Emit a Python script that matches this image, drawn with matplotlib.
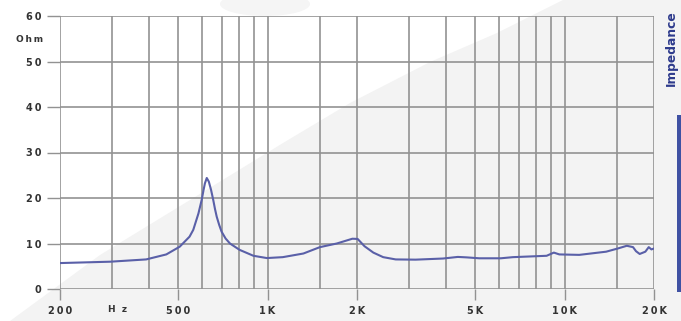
import matplotlib
matplotlib.use('Agg')
import matplotlib.pyplot as plt
import numpy as np
from matplotlib.patches import Polygon, Rectangle, Ellipse
from matplotlib.ticker import FixedLocator, NullLocator, NullFormatter

# ---------------- data ----------------
freq = [200, 295, 390, 456, 506, 546, 562, 585, 600, 608, 615, 624, 634, 645,
        656, 665, 674, 687, 700, 722, 747, 805, 896, 994, 1125, 1320, 1500,
        1710, 1930, 2010, 2120, 2270, 2450, 2700, 3150, 3900, 4370, 4680,
        5160, 6100, 6700, 8700, 9200, 9600, 11200, 13800, 15100, 16200,
        17000, 17400, 17900, 18700, 19200, 19600, 20000]
imp = [5.7, 6.0, 6.5, 7.6, 9.3, 11.5, 13.0, 16.6, 19.6, 21.6, 23.2, 24.4, 23.6, 21.8,
       19.6, 17.6, 15.9, 14.1, 12.6, 11.1, 10.0, 8.6, 7.3, 6.8, 7.0, 7.8, 9.2,
       10.0, 11.05, 11.0, 9.4, 8.0, 7.0, 6.5, 6.45, 6.7, 7.05, 6.95,
       6.75, 6.75, 7.0, 7.3, 8.0, 7.6, 7.5, 8.2, 8.9, 9.5,
       9.2, 8.3, 7.7, 8.2, 9.2, 8.7, 8.9]

grid_freqs = [200, 300, 400, 500, 600, 700, 800, 900, 1000, 1500, 2000, 3000,
              4000, 5000, 6000, 7000, 8000, 9000, 10000, 15000, 20000]
xtick_freqs = [200, 500, 1000, 2000, 5000, 10000, 20000]
xtick_labels = ['200', '500', '1K', '2K', '5K', '10K', '20K']
ytick_vals = [0, 10, 20, 30, 40, 50, 60]
ytick_labels = ['0', '10', '20', '30', '40', '50', '60']

TS = '\u2009'  # thin space for letter spacing


def spaced(s):
    return TS.join(list(s))


W, H = 681, 321
fig = plt.figure(figsize=(W / 100, H / 100), dpi=100)
fig.patch.set_facecolor('white')

# background layer (decoration, pixel coords with y downward)
bg = fig.add_axes([0, 0, 1, 1], zorder=-5)
bg.set_xlim(0, W)
bg.set_ylim(H, 0)
bg.axis('off')
pts = [(10, 321), (100, 255), (190, 200), (283, 143), (350, 103), (430, 62),
       (497, 33), (563, 0), (681, 0), (681, 321)]
bg.add_patch(Polygon(pts, closed=True, facecolor='#f3f3f3', edgecolor='none'))
bg.add_patch(Ellipse((265, 4), 90, 24, facecolor='#f5f5f5', edgecolor='none'))
bg.add_patch(Rectangle((677, 115), 5, 177, facecolor='#3f51a3', edgecolor='none'))

left, right, top, bottom = 60, 654, 16, 289
ax = fig.add_axes([left / W, 1 - bottom / H, (right - left) / W, (bottom - top) / H], zorder=1)
ax.set_facecolor('none')
ax.set_xscale('log')
ax.set_xlim(200, 20000)
ax.set_ylim(0, 60)
for s in ax.spines.values():
    s.set_visible(False)

gc = '#929292'
for f in grid_freqs:
    ax.axvline(f, color=gc, lw=1.2, zorder=1)
for v in ytick_vals:
    ax.axhline(v, color=gc, lw=1.2, zorder=1)

ax.plot(freq, imp, color='#5a60a8', lw=1.5, zorder=3, solid_joinstyle='round')

ax.xaxis.set_major_locator(FixedLocator(xtick_freqs))
ax.xaxis.set_minor_locator(NullLocator())
ax.xaxis.set_minor_formatter(NullFormatter())
ax.set_xticklabels([spaced(t) for t in xtick_labels])
ax.set_yticks(ytick_vals)
ax.set_yticklabels([spaced(t) for t in ytick_labels])
ax.tick_params(axis='x', length=8, width=1.0, color=gc, pad=4, labelsize=7, labelcolor='#333333')
ax.tick_params(axis='y', length=9.5, width=1.0, color=gc, pad=4, labelsize=7, labelcolor='#333333')
for lab in ax.get_xticklabels() + ax.get_yticklabels():
    lab.set_fontweight('bold')

fig.text(43 / W, 1 - 40 / H, spaced('Ohm'), ha='right', va='center', fontsize=6.5,
         fontweight='bold', color='#333333')
fig.text(118 / W, 1 - 310 / H, 'H  z', ha='center', va='center', fontsize=6.5,
         fontweight='bold', color='#333333')

fig.text(671 / W, 1 - 48 / H, 'Impedance', rotation=90, ha='center', va='center',
         fontsize=8.8, fontweight='bold', color='#2d3a8c')

fig.savefig('out.png', dpi=100)
